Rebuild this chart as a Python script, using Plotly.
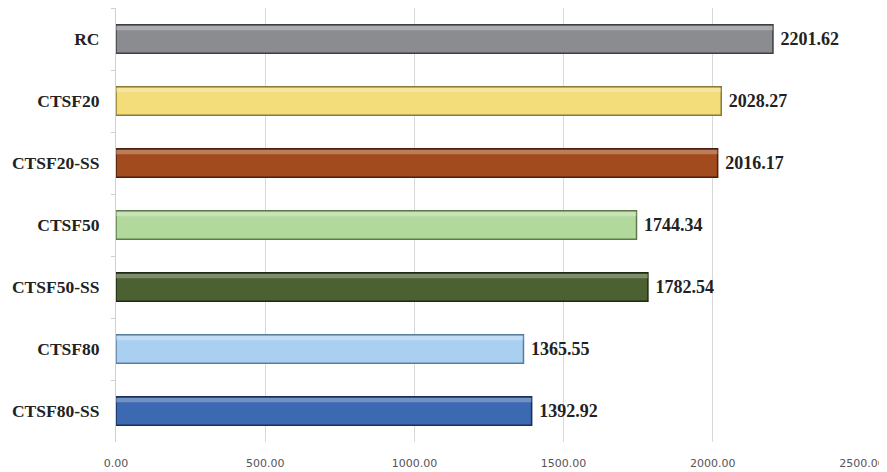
import plotly.graph_objects as go

categories = ["RC", "CTSF20", "CTSF20-SS", "CTSF50", "CTSF50-SS", "CTSF80", "CTSF80-SS"]
values = [2201.62, 2028.27, 2016.17, 1744.34, 1782.54, 1365.55, 1392.92]
colors = ["#8b8c90", "#f3dc7a", "#a24b1f", "#b2d99c", "#4b6131", "#a9d0f1", "#3c69b1"]
edge_colors = ["#3e3f42", "#8a7a30", "#4a200a", "#5d7a4c", "#1f2a12", "#5a7d9c", "#1a2f55"]
x_ticks = [0, 500, 1000, 1500, 2000, 2500]
x_tick_labels = ["0.00", "500.00", "1000.00", "1500.00", "2000.00", "2500.00"]

fig = go.Figure()
fig.add_trace(go.Bar(
    y=categories,
    x=values,
    orientation="h",
    marker=dict(color=colors, line=dict(color=edge_colors, width=1.5)),
    texttemplate=" <b>%{x:.2f}</b>",
    textposition="outside",
    textfont=dict(family="Liberation Serif", size=18, color="#222222"),
    cliponaxis=False,
    width=0.46,
    hoverinfo="skip",
))
# subtle bevel highlight along the top of each bar
fig.add_trace(go.Bar(
    y=categories,
    x=values,
    orientation="h",
    marker=dict(color="rgba(255,255,255,0.28)", line=dict(width=0)),
    width=0.07,
    offset=-0.21,
    hoverinfo="skip",
))

fig.update_layout(
    width=879, height=464,
    margin=dict(l=108, r=25, t=0, b=30),
    plot_bgcolor="white", paper_bgcolor="white",
    showlegend=False,
    barmode="overlay",
    xaxis=dict(
        range=[0, 2500],
        tickvals=x_ticks, ticktext=x_tick_labels,
        showgrid=True, gridcolor="#d9d9d9", gridwidth=1,
        zeroline=False, showline=False,
        tickfont=dict(family="DejaVu Sans", size=11, color="#555555"),
        ticklabelstandoff=13,
        automargin=False,
    ),
    yaxis=dict(
        categoryorder="array", categoryarray=categories,
        autorange="reversed",
        showline=True, linecolor="#d0d0d0", linewidth=1,
        ticks="outside", tickson="boundaries", ticklen=4, tickcolor="#d0d0d0",
        tickfont=dict(family="Liberation Serif", size=17.5, color="#222222"),
        tickprefix="<b>", ticksuffix="</b>",
        ticklabelstandoff=12,
        showgrid=False,
        automargin=False,
    ),
)

fig.write_html("out.html")
